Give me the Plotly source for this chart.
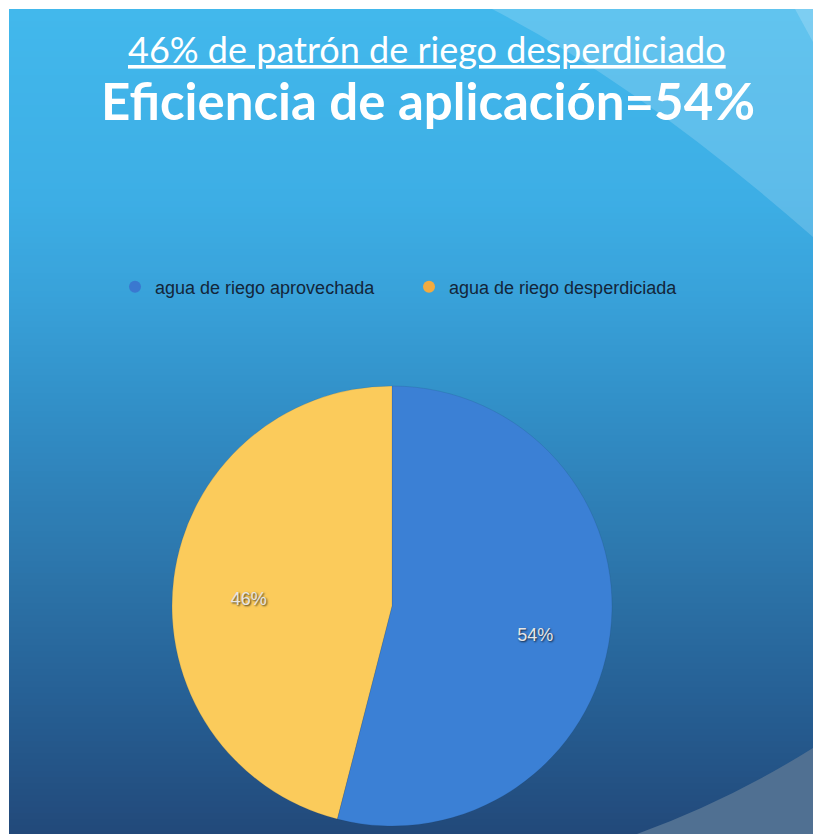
import plotly.graph_objects as go

# ---- data ----
categories = ["agua de riego aprovechada", "agua de riego desperdiciada"]
values = [54, 46]
slice_colors = ["#3b80d5", "#fbcb5b"]
legend_colors = ["#3a78d0", "#f2ab40"]
title_line1 = "46% de patrón de riego desperdiciado"
title_line2 = "Eficiencia de aplicación=54%"

W, H = 813, 834

def py(p):
    return 1 - p / H

def px(p):
    return p / W

# ---- background gradient (slide style) ----
stops = [(9, (66, 184, 236)), (200, (61, 174, 229)), (300, (56, 161, 217)),
         (420, (49, 141, 197)), (550, (45, 120, 174)), (700, (38, 95, 148)),
         (834, (34, 73, 122))]

def color_at(y):
    for (y0, c0), (y1, c1) in zip(stops[:-1], stops[1:]):
        if y0 <= y <= y1:
            t = (y - y0) / (y1 - y0)
            return tuple(round(a + (b - a) * t) for a, b in zip(c0, c1))
    return stops[-1][1]

shapes = []
step = 6
y = 9
while y < H:
    y2 = min(y + step, H)
    c = color_at((y + y2) / 2)
    shapes.append(dict(type="rect", xref="paper", yref="paper",
                       x0=px(9), x1=1.0, y0=py(y2), y1=py(y),
                       fillcolor="rgb(%d,%d,%d)" % c, line=dict(width=0),
                       layer="below"))
    y = y2

# light diagonal band top right
shapes.append(dict(type="path", xref="paper", yref="paper",
                   path="M %f,%f Q %f,%f %f,%f L %f,%f Z" % (
                       px(492), py(9), px(640), py(85), px(813), py(237),
                       px(813), py(9)),
                   fillcolor="rgba(255,255,255,0.17)", line=dict(width=0),
                   layer="below"))
shapes.append(dict(type="path", xref="paper", yref="paper",
                   path="M %f,%f L %f,%f L %f,%f Z" % (
                       px(795), py(9), px(813), py(42), px(813), py(9)),
                   fillcolor="rgba(255,255,255,0.18)", line=dict(width=0),
                   layer="below"))
# light arc bottom right
shapes.append(dict(type="path", xref="paper", yref="paper",
                   path="M %f,%f Q %f,%f %f,%f L %f,%f Z" % (
                       px(637), py(834), px(730), py(800), px(813), py(748),
                       px(813), py(834)),
                   fillcolor="rgb(80,112,146)", line=dict(width=0),
                   layer="below"))

fig = go.Figure()

cx, cy, r = 392, 606, 220
# main pie (no text)
fig.add_trace(go.Pie(
    labels=categories, values=values, sort=False, direction="clockwise",
    rotation=0,
    marker=dict(colors=slice_colors, line=dict(color="rgba(20,40,70,0.12)", width=1)),
    textinfo="none", showlegend=False, hoverinfo="label+percent",
    domain=dict(x=[px(cx - r), px(cx + r)], y=[py(cy + r), py(cy - r)]),
))
# transparent ring carrying the percentage labels further out
ty, tr = 617, 214
fig.add_trace(go.Pie(
    labels=categories, values=values, sort=False, direction="clockwise",
    rotation=0, hole=0.35,
    marker=dict(colors=["rgba(0,0,0,0)"] * len(values), line=dict(width=0)),
    textinfo="percent", textposition="inside", insidetextorientation="horizontal",
    texttemplate="%{percent:.0%}",
    textfont=dict(family="Liberation Sans, Arial", size=18, color="#e6e6e6",
                  shadow="1px 1px 2px rgba(0,0,0,0.75)"),
    showlegend=False, hoverinfo="skip",
    domain=dict(x=[px(cx - tr), px(cx + tr)], y=[py(ty + tr), py(ty - tr)]),
))

for name, col in zip(categories, legend_colors):
    fig.add_trace(go.Scatter(x=[None], y=[None], mode="markers", name=name,
                             marker=dict(symbol="circle", size=12, color=col),
                             showlegend=True, hoverinfo="skip"))

fig.update_layout(
    width=W, height=H,
    margin=dict(l=0, r=0, t=0, b=0),
    paper_bgcolor="white", plot_bgcolor="rgba(0,0,0,0)",
    xaxis=dict(visible=False), yaxis=dict(visible=False),
    shapes=shapes,
    showlegend=True,
    legend=dict(orientation="h", x=px(115), xanchor="left", y=py(287),
                yanchor="middle", bgcolor="rgba(0,0,0,0)", entrywidth=249,
                font=dict(family="Liberation Sans, Arial", size=18, color="#13263a")),
    annotations=[
        dict(text="<u>" + title_line1 + "</u>", xref="paper", yref="paper",
             x=px(427), y=py(49), xanchor="center", yanchor="middle",
             showarrow=False,
             font=dict(family="Lato", size=36, color="white")),
        dict(text="<b>" + title_line2 + "</b>", xref="paper", yref="paper",
             x=px(428), y=py(100), xanchor="center", yanchor="middle",
             showarrow=False,
             font=dict(family="Lato", size=51, color="white")),
    ],
)

fig.write_html("out.html", config={"displayModeBar": False},
               post_script="document.body.style.margin='0';document.body.style.overflow='hidden';")
